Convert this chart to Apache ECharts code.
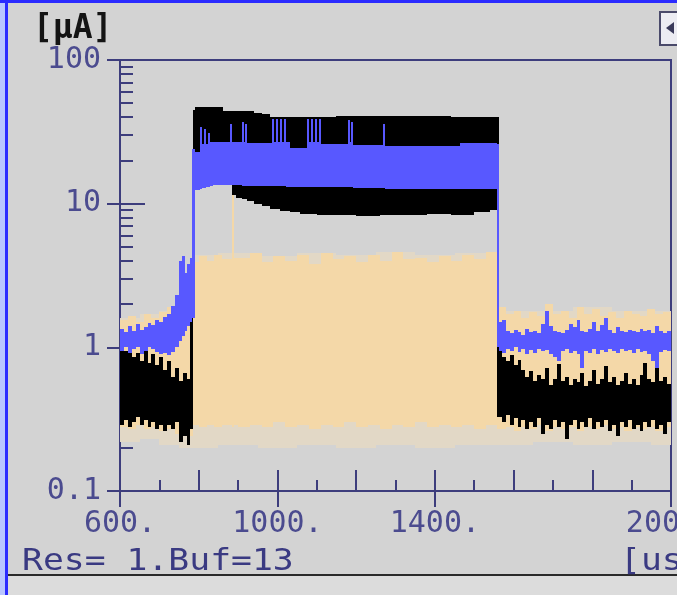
<!DOCTYPE html>
<html>
<head>
<meta charset="utf-8">
<script src="https://cdn.jsdelivr.net/npm/echarts@6.0.0/dist/echarts.min.js"></script>
<style>
	html, body { margin: 0; padding: 0; background: #d3d3d3; }
	#chart { width: 677px; height: 595px; }
</style>
</head>
<body>
<div id="chart"></div>
<script>
// time axis [us] and current axis [uA]
const X_MIN = 600, X_MAX = 2000;
const xLabelValues = [600, 1000, 1400, 2000];
const xLabels = ['600.', '1000.', '1400.', '2000.'];
const xMidTicks = [600, 800, 1000, 1200, 1400, 1600, 1800, 2000];
const yTickValues = [0.1, 1, 10, 100];
const yTickLabels = ['0.1', '1', '10', '100'];
const yMinorValues = [0.2, 0.3, 0.4, 0.5, 0.6, 0.7, 0.8, 0.9, 2, 3, 4, 5, 6, 7, 8, 9, 20, 30, 40, 50, 60, 70, 80, 90];

// each trace = noise envelope: bin start [us], min and max [uA] of the bin (bin ends at next start)
// blue trace
const blueX = [
	600, 610, 620, 630, 640, 650, 660, 670, 680, 690, 700, 710, 720, 730, 740, 750, 757, 764, 771, 778, 783,
	790, 803, 808, 813, 818, 823, 828, 836, 879, 885, 910, 915, 918, 922, 986, 991, 996, 1001, 1006, 1011, 1016, 1021, 1031,
	1075, 1080, 1085, 1090, 1095, 1100, 1105, 1110, 1179, 1184, 1188, 1193, 1268, 1273, 1463,
	1557, 1563, 1570, 1580, 1590, 1600, 1610, 1620, 1630, 1640, 1650, 1660, 1670, 1680, 1690, 1700, 1710, 1720, 1730, 1740,
	1750, 1760, 1770, 1780, 1790, 1800, 1810, 1820, 1830, 1840, 1850, 1860, 1870, 1880, 1890, 1900, 1910, 1920, 1930, 1940,
	1950, 1960, 1970, 1980, 1990
];
const blueLo = [
	0.95, 1.00, 0.92, 0.97, 1.00, 0.90, 0.95, 1.00, 0.97, 0.93, 0.90, 0.92, 0.88, 0.93, 1.00, 1.10, 1.20, 1.30, 1.40, 1.50, 1.60,
	12.4, 12.6, 12.8, 12.8, 13.0, 13.0, 13.2, 13.5, 13.5, 13.4, 13.3, 13.3, 13.3, 13.2, 13.2, 13.2, 13.2, 13.2, 13.2, 13.2, 13.2, 13.0, 13.0,
	13.0, 13.0, 13.0, 13.0, 13.0, 13.0, 13.0, 13.0, 13.0, 13.0, 13.0, 12.8, 12.8, 12.7, 12.6,
	1.00, 0.95, 0.92, 0.98, 0.95, 1.00, 0.93, 0.97, 0.90, 0.96, 0.92, 0.98, 0.94, 0.96, 0.90, 0.85, 0.80, 0.94, 0.97, 0.92,
	0.95, 0.90, 0.72, 0.95, 0.92, 0.97, 0.90, 0.96, 0.93, 0.98, 0.95, 0.92, 0.97, 0.94, 0.96, 0.92, 0.97, 0.93, 0.95, 0.90,
	0.80, 0.72, 0.93, 0.96, 0.94
];
const blueHi = [
	1.35, 1.28, 1.40, 1.30, 1.45, 1.32, 1.38, 1.48, 1.42, 1.55, 1.50, 1.62, 1.70, 1.95, 2.30, 4.00, 4.30, 3.30, 3.80, 4.20, 24,
	23, 34, 26, 33, 26, 31, 27, 27, 36, 27, 37, 27, 36, 26.5, 39, 27, 39, 27, 39, 27, 39, 27, 24.5,
	39, 27, 39, 27, 39, 27, 39, 26, 38, 27, 37, 25.5, 36, 25, 26.5,
	26, 1.50, 1.55, 1.30, 1.25, 1.32, 1.28, 1.22, 1.35, 1.27, 1.30, 1.25, 1.45, 1.80, 1.40, 1.30, 1.28, 1.25, 1.32, 1.45,
	1.38, 1.55, 1.30, 1.28, 1.35, 1.50, 1.30, 1.42, 1.60, 1.32, 1.25, 1.38, 1.30, 1.27, 1.33, 1.30, 1.28, 1.35, 1.30, 1.32,
	1.25, 1.40, 1.30, 1.26, 1.30
];

// black trace
const blackX = [
	600, 610, 620, 630, 640, 650, 660, 670, 680, 690, 700, 710, 720, 730, 740, 750, 760, 770, 778,
	785, 790, 861, 884, 895, 910, 922, 940, 960, 981, 1006, 1031, 1057, 1100, 1150, 1200, 1260, 1320, 1380, 1440, 1500, 1540,
	1557, 1563, 1570, 1580, 1590, 1600, 1610, 1620, 1630, 1640, 1650, 1660, 1670, 1680, 1690, 1700, 1710, 1720, 1730, 1740,
	1750, 1760, 1770, 1780, 1790, 1800, 1810, 1820, 1830, 1840, 1850, 1860, 1870, 1880, 1890, 1900, 1910, 1920, 1930, 1940,
	1950, 1960, 1970, 1980, 1990
];
const blackLo = [
	0.29, 0.31, 0.28, 0.30, 0.33, 0.29, 0.31, 0.28, 0.30, 0.27, 0.29, 0.26, 0.29, 0.27, 0.30, 0.22, 0.24, 0.21, 0.27,
	20, 14, 14, 11.5, 11.0, 10.8, 10.4, 10.0, 9.6, 9.2, 8.9, 8.7, 8.5, 8.3, 8.4, 8.2, 8.4, 8.3, 8.5, 8.4, 8.7, 9.0,
	0.33, 0.33, 0.30, 0.34, 0.29, 0.32, 0.28, 0.31, 0.27, 0.30, 0.28, 0.32, 0.25, 0.29, 0.27, 0.31, 0.28, 0.30, 0.23, 0.29,
	0.31, 0.27, 0.30, 0.28, 0.32, 0.27, 0.30, 0.28, 0.31, 0.26, 0.29, 0.24, 0.30, 0.28, 0.31, 0.27, 0.29, 0.26, 0.30, 0.28,
	0.31, 0.27, 0.29, 0.25, 0.30
];
const blackHi = [
	1.05, 0.95, 1.00, 0.85, 0.92, 0.80, 0.98, 0.78, 0.90, 0.75, 0.85, 0.70, 0.80, 0.62, 0.72, 0.58, 0.66, 0.60, 2.5,
	45, 47, 44, 44, 44, 44, 44, 43, 42, 40, 40, 40, 40, 40, 41, 41, 40.5, 41, 40.5, 40, 40, 40,
	40, 1.20, 0.85, 0.80, 0.88, 0.75, 0.82, 0.70, 0.62, 0.68, 0.58, 0.64, 0.60, 0.72, 0.55, 0.60, 0.76, 0.58, 0.62, 0.55,
	0.60, 0.57, 0.66, 0.54, 0.58, 0.70, 0.56, 0.60, 0.74, 0.57, 0.62, 0.55, 0.58, 0.66, 0.56, 0.60, 0.55, 0.64, 0.78, 0.60,
	0.57, 0.72, 0.58, 0.62, 0.56
];

// tan trace, solid core
const tanX = [
	600, 620, 640, 660, 680, 700, 720, 740, 760,
	785, 800, 820, 840, 860, 884, 890, 900, 930, 960, 990, 1020, 1050, 1080, 1110, 1140, 1170, 1200, 1230, 1260, 1290,
	1320, 1350, 1380, 1410, 1440, 1470, 1500, 1530,
	1557, 1580, 1600, 1620, 1640, 1660, 1680, 1700, 1720, 1740, 1760, 1780, 1800, 1820, 1840, 1860, 1880, 1900, 1920, 1940,
	1960, 1980
];
const tanLo = [
	0.28, 0.27, 0.29, 0.27, 0.28, 0.26, 0.27, 0.25, 0.24,
	0.29, 0.28, 0.29, 0.28, 0.29, 0.28, 0.29, 0.28, 0.29, 0.28, 0.30, 0.28, 0.29, 0.27, 0.29, 0.28, 0.30, 0.28, 0.29, 0.27,
	0.29, 0.28, 0.30, 0.28, 0.29, 0.28, 0.29, 0.27, 0.29,
	0.27, 0.28, 0.26, 0.28, 0.27, 0.29, 0.26, 0.28, 0.27, 0.28, 0.26, 0.28, 0.27, 0.29, 0.27, 0.28, 0.26, 0.28, 0.27, 0.28,
	0.26, 0.28
];
const tanHi = [
	1.55, 1.65, 1.50, 1.70, 1.60, 1.75, 1.90, 2.10, 2.60,
	3.9, 4.3, 4.0, 4.4, 4.1, 12.4, 4.2, 4.2, 4.5, 3.9, 4.3, 4.0, 4.4, 3.8, 4.5, 4.1, 4.3, 3.9, 4.4, 4.0,
	4.6, 4.1, 4.2, 3.9, 4.3, 4.0, 4.4, 4.1, 4.6,
	1.9, 1.7, 1.8, 1.6, 1.75, 1.65, 2.0, 1.7, 1.8, 1.6, 1.9, 1.7, 1.85, 1.65, 1.75, 1.6, 1.8, 1.7, 1.65, 1.85,
	1.7, 1.75
];

// tan trace, faint outer excursions
const tanFaintX = [600, 650, 700, 750, 785, 850, 950, 1050, 1150, 1250, 1350, 1450, 1557, 1650, 1750, 1850, 1950];
const tanFaintLo = [0.22, 0.23, 0.21, 0.20, 0.20, 0.21, 0.20, 0.21, 0.20, 0.21, 0.20, 0.21, 0.21, 0.22, 0.21, 0.22, 0.21];
const tanFaintHi = [1.6, 1.7, 1.8, 2.5, 4.4, 4.5, 4.3, 4.5, 4.4, 4.6, 4.4, 4.5, 1.8, 1.8, 1.9, 1.8, 1.8];

const axisColor = '#3d3d7c';
const labelColor = '#4b4b8f';
const monoFont = 'DejaVu Sans Mono';

function bands(xs, lo, hi) {
	return xs.map(function(x, i) {
		return [x, i + 1 < xs.length ? xs[i + 1] : X_MAX, lo[i], hi[i]];
	});
}

function bandSeries(name, data, color) {
	return {
		name: name,
		type: 'custom',
		silent: true,
		clip: true,
		data: data,
		encode: { x: [0, 1], y: [2, 3] },
		renderItem: function(params, api) {
			let p0 = api.coord([api.value(0), api.value(3)]);
			let p1 = api.coord([api.value(1), api.value(2)]);
			// snap to whole pixels so neighbouring bins do not leave seams
			let x0 = Math.round(p0[0]);
			let x1 = Math.max(Math.round(p1[0]), x0 + 1);
			let y0 = Math.round(p0[1]);
			let y1 = Math.round(p1[1]);
			return {
				type: 'rect',
				shape: { x: x0, y: y0, width: x1 - x0, height: y1 - y0 },
				style: { fill: color }
			};
		}
	};
}

function yLabel(v) {
	for (let i = 0; i < yTickValues.length; i++) {
		if (Math.abs(Math.log10(v) - Math.log10(yTickValues[i])) < 1e-6) return yTickLabels[i];
	}
	return '';
}

function xLabel(v) {
	let i = xLabelValues.indexOf(v);
	return i >= 0 ? xLabels[i] : '';
}

let myChart = echarts.init(document.getElementById('chart'), null, { renderer: 'canvas' });

let baseX = { type: 'value', min: X_MIN, max: X_MAX, position: 'bottom', offset: 0, splitLine: { show: false } };
let baseY = { type: 'log', logBase: 10, min: 0.1, max: 100, position: 'left', offset: 0, splitLine: { show: false } };
let tickLine = { color: axisColor, width: 2 };

let option = {
	backgroundColor: '#d3d3d3',
	animation: false,
	title: {
		text: '[μA]',
		left: 33,
		top: 13,
		padding: 0,
		textStyle: { fontFamily: monoFont, fontSize: 33, fontWeight: 'bold', color: '#141414' }
	},
	grid: {
		left: 120, right: 6, top: 60, bottom: 104,
		show: true,
		borderColor: axisColor,
		borderWidth: 2,
		backgroundColor: 'transparent',
		outerBoundsMode: 'none'
	},
	xAxis: [
		Object.assign({}, baseX, {
			interval: 100,
			axisLine: { show: true, onZero: false, lineStyle: tickLine },
			axisTick: { show: true, inside: true, length: 11, lineStyle: tickLine },
			axisLabel: {
				show: true, customValues: xLabelValues, formatter: xLabel, margin: 18,
				fontFamily: monoFont, fontSize: 30, color: labelColor
			}
		}),
		Object.assign({}, baseX, {
			axisLine: { show: false },
			axisTick: { show: true, inside: true, length: 21, customValues: xMidTicks, lineStyle: tickLine },
			axisLabel: { show: false }
		}),
		Object.assign({}, baseX, {
			axisLine: { show: false },
			axisTick: { show: true, inside: false, length: 16, customValues: xLabelValues, lineStyle: tickLine },
			axisLabel: { show: false }
		})
	],
	yAxis: [
		Object.assign({}, baseY, {
			axisLine: { show: true, onZero: false, lineStyle: tickLine },
			axisTick: { show: true, inside: false, length: 13, customValues: yTickValues, lineStyle: tickLine },
			axisLabel: {
				show: true, customValues: yTickValues, formatter: yLabel, margin: 19,
				fontFamily: monoFont, fontSize: 30, color: labelColor
			}
		}),
		Object.assign({}, baseY, {
			axisLine: { show: false },
			axisTick: { show: true, inside: true, length: 25, customValues: yTickValues, lineStyle: tickLine },
			axisLabel: { show: false }
		}),
		Object.assign({}, baseY, {
			axisLine: { show: false },
			axisTick: { show: true, inside: true, length: 13, customValues: yMinorValues, lineStyle: tickLine },
			axisLabel: { show: false }
		})
	],
	graphic: [
		// window frame
		{ type: 'rect', shape: { x: 0, y: 0, width: 5, height: 595 }, style: { fill: '#b9c6ff' }, silent: true },
		{ type: 'rect', shape: { x: 5, y: 0, width: 3, height: 595 }, style: { fill: '#2b2bff' }, silent: true },
		{ type: 'rect', shape: { x: 0, y: 0, width: 677, height: 3 }, style: { fill: '#2b2bff' }, silent: true },
		{ type: 'rect', shape: { x: 8, y: 576, width: 669, height: 19 }, style: { fill: '#dcdcdc' }, silent: true },
		{ type: 'rect', shape: { x: 8, y: 574, width: 669, height: 2 }, style: { fill: '#2a2a2a' }, silent: true },
		// corner button
		{ type: 'rect', shape: { x: 660, y: 12, width: 22, height: 33 }, style: { fill: '#ececf2', stroke: '#4a4a6a', lineWidth: 2 }, silent: true },
		{ type: 'polygon', shape: { points: [[666, 28], [674, 22], [674, 34]] }, style: { fill: '#3a3a5a' }, silent: true },
		// status line
		{
			type: 'text', x: 22, y: 546, scaleX: 1.12, silent: true,
			style: { text: 'Res= 1.Buf=13', fontFamily: monoFont, fontSize: 31, fill: '#3a3a82', verticalAlign: 'top' }
		},
		{
			type: 'text', x: 620, y: 546, scaleX: 1.12, silent: true,
			style: { text: '[us]', fontFamily: monoFont, fontSize: 31, fill: '#3a3a82', verticalAlign: 'top' }
		}
	],
	series: [
		bandSeries('tan faint', bands(tanFaintX, tanFaintLo, tanFaintHi), '#e2d8c6'),
		bandSeries('tan', bands(tanX, tanLo, tanHi), '#f4d8a8'),
		bandSeries('black', bands(blackX, blackLo, blackHi), '#000000'),
		bandSeries('blue', bands(blueX, blueLo, blueHi), '#5858ff')
	]
};

myChart.setOption(option);
</script>
</body>
</html>
